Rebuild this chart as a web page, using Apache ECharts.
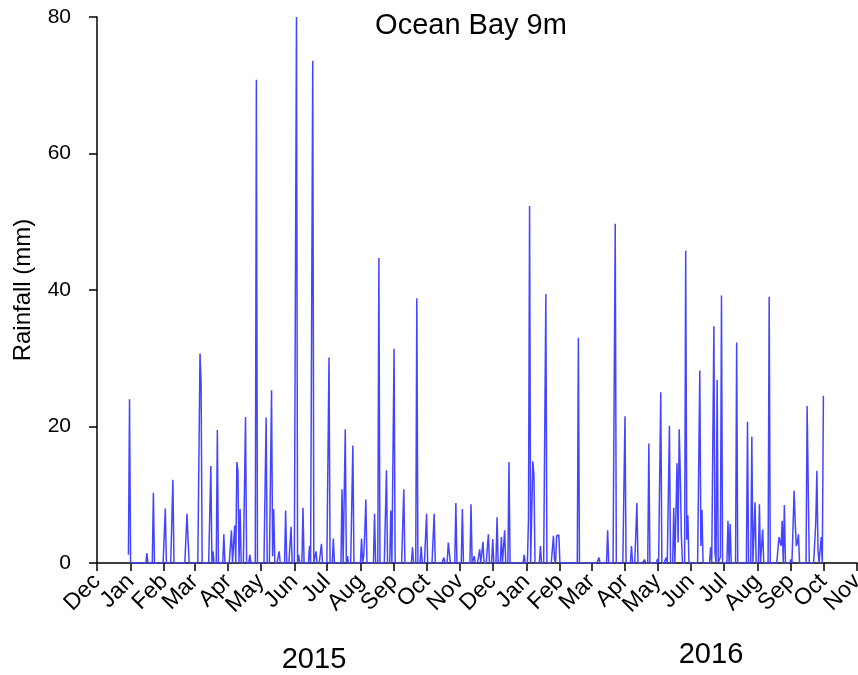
<!DOCTYPE html>
<html lang="en">
<head>
  <meta charset="UTF-8">
  <title>Ocean Bay 9m rainfall</title>
  <script src="https://cdn.jsdelivr.net/npm/echarts@6.0.0/dist/echarts.min.js"></script>
  <style>
    html, body { margin: 0; padding: 0; background: #fff; }
    #chart { width: 858px; height: 675px; }
  </style>
</head>
<body>
  <div id="chart"></div>

  <script>
    // axis span (daily categories) and record span
    const axisStart = '2014-12-01';
    const axisEnd = '2016-11-01';
    const recordStart = '2014-12-30';
    const recordEnd = '2016-10-01';

    const monthNames = ['Jan', 'Feb', 'Mar', 'Apr', 'May', 'Jun', 'Jul', 'Aug', 'Sep', 'Oct', 'Nov', 'Dec'];

    // days with rain (all other days in the record are 0 mm)
    const rainDates = [
      '2014-12-30', '2014-12-31', '2015-01-16', '2015-01-22', '2015-02-02', '2015-02-09', '2015-02-22', '2015-02-23',
      '2015-03-06', '2015-03-07', '2015-03-16', '2015-03-18', '2015-03-22', '2015-03-28', '2015-04-04', '2015-04-07',
      '2015-04-09', '2015-04-10', '2015-04-12', '2015-04-17', '2015-04-21', '2015-04-27', '2015-05-06', '2015-05-11',
      '2015-05-12', '2015-05-13', '2015-05-18', '2015-05-24', '2015-05-29', '2015-06-03', '2015-06-05', '2015-06-09',
      '2015-06-15', '2015-06-18', '2015-06-21', '2015-06-26', '2015-07-03', '2015-07-07', '2015-07-15', '2015-07-18',
      '2015-07-20', '2015-07-25', '2015-08-02', '2015-08-04', '2015-08-05', '2015-08-06', '2015-08-14', '2015-08-18',
      '2015-08-25', '2015-08-29', '2015-09-01', '2015-09-10', '2015-09-18', '2015-09-22', '2015-09-26', '2015-10-01',
      '2015-10-08', '2015-10-17', '2015-10-21', '2015-10-22', '2015-10-28', '2015-11-03', '2015-11-11', '2015-11-14',
      '2015-11-19', '2015-11-22', '2015-11-27', '2015-12-01', '2015-12-05', '2015-12-09', '2015-12-12', '2015-12-16',
      '2015-12-30', '2016-01-03', '2016-01-04', '2016-01-07', '2016-01-08', '2016-01-14', '2016-01-19', '2016-01-26',
      '2016-01-27', '2016-01-29', '2016-01-30', '2016-01-31', '2016-02-18', '2016-03-08', '2016-03-16', '2016-03-23',
      '2016-04-01', '2016-04-07', '2016-04-12', '2016-04-19', '2016-04-23', '2016-05-01', '2016-05-04', '2016-05-09',
      '2016-05-12', '2016-05-16', '2016-05-19', '2016-05-20', '2016-05-21', '2016-05-22', '2016-05-23', '2016-05-27',
      '2016-05-28', '2016-05-29', '2016-06-09', '2016-06-10', '2016-06-11', '2016-06-19', '2016-06-22', '2016-06-23',
      '2016-06-25', '2016-06-28', '2016-06-29', '2016-07-05', '2016-07-07', '2016-07-13', '2016-07-23', '2016-07-27',
      '2016-07-30', '2016-08-03', '2016-08-06', '2016-08-12', '2016-08-21', '2016-08-22', '2016-08-23', '2016-08-24',
      '2016-08-26', '2016-09-01', '2016-09-04', '2016-09-05', '2016-09-06', '2016-09-07', '2016-09-08', '2016-09-16',
      '2016-09-17', '2016-09-24', '2016-09-25', '2016-09-26', '2016-09-29', '2016-10-01'
    ];
    const rainMm = [
      1.2, 24.0, 1.4, 10.3, 8.0, 12.2, 7.2, 3.5,
      30.7, 26.5, 14.2, 1.7, 19.5, 4.2, 4.8, 5.5,
      14.8, 13.5, 7.9, 21.4, 1.2, 70.8, 21.3, 25.3,
      1.0, 7.9, 1.7, 7.7, 5.3, 80.0, 1.2, 8.1,
      2.5, 73.6, 1.7, 2.8, 30.1, 3.6, 10.8, 19.6,
      1.0, 17.2, 3.6, 1.0, 4.5, 9.3, 7.2, 44.7,
      13.6, 7.7, 31.4, 10.8, 2.3, 38.8, 2.4, 7.2,
      7.2, 0.8, 3.0, 2.9, 8.8, 7.9, 8.6, 1.0,
      2.0, 3.1, 4.2, 3.5, 6.7, 3.8, 4.8, 14.8,
      1.2, 6.6, 52.3, 14.9, 12.9, 2.5, 39.4, 4.0,
      0.5, 4.0, 4.1, 4.1, 33.0, 0.8, 4.8, 49.7,
      21.5, 2.5, 8.8, 0.5, 17.5, 0.6, 25.0, 0.8,
      20.1, 8.1, 14.6, 3.0, 19.6, 13.0, 4.0, 45.8,
      3.4, 7.0, 28.2, 2.5, 7.8, 2.3, 34.7, 1.5,
      26.8, 0.9, 39.2, 6.2, 5.7, 32.3, 20.7, 18.5,
      8.9, 8.6, 4.9, 39.0, 3.8, 4.0, 2.5, 6.2,
      8.5, 0.5, 10.6, 6.0, 2.5, 3.0, 4.2, 23.0,
      23.0, 6.0, 13.5, 2.0, 3.8, 24.5
    ];

    const yTicks = [0, 20, 40, 60, 80];
    const yearLabels = ['2015', '2016'];

    // build the daily category list for the axis
    function dayList(from, to) {
      const out = [];
      const d = new Date(from + 'T00:00:00Z');
      const end = new Date(to + 'T00:00:00Z');
      while (d <= end) {
        out.push(d.toISOString().slice(0, 10));
        d.setUTCDate(d.getUTCDate() + 1);
      }
      return out;
    }

    const days = dayList(axisStart, axisEnd);
    const rainByDate = {};
    rainDates.forEach((d, i) => { rainByDate[d] = rainMm[i]; });

    const series = days.map(d => {
      if (d < recordStart || d > recordEnd) return null;
      return rainByDate[d] !== undefined ? rainByDate[d] : 0;
    });

    const isMonthStart = (idx, val) => val.slice(8) === '01';
    const font = "'Liberation Sans', Arial, sans-serif";

    const chart = echarts.init(document.getElementById('chart'));

    chart.setOption({
      animation: false,
      backgroundColor: '#ffffff',
      grid: {
        left: 97,
        right: 1,
        top: 17,
        bottom: 112,
        containLabel: false,
        outerBoundsMode: 'none'
      },
      xAxis: {
        type: 'category',
        data: days,
        boundaryGap: false,
        axisLine: { lineStyle: { color: '#000', width: 1.5 } },
        axisTick: { interval: isMonthStart, length: 8, lineStyle: { color: '#000', width: 1.5 } },
        axisLabel: {
          interval: isMonthStart,
          rotate: 45,
          margin: 15,
          color: '#000',
          fontSize: 23,
          fontFamily: font,
          formatter: v => monthNames[parseInt(v.slice(5, 7), 10) - 1]
        },
        splitLine: { show: false }
      },
      yAxis: {
        type: 'value',
        min: yTicks[0],
        max: yTicks[yTicks.length - 1],
        interval: 20,
        name: 'Rainfall (mm)',
        nameLocation: 'middle',
        nameGap: 62,
        nameTextStyle: { color: '#000', fontSize: 24, fontFamily: font },
        axisLine: { show: true, lineStyle: { color: '#000', width: 1.5 } },
        axisTick: { show: true, length: 8, lineStyle: { color: '#000', width: 1.5 } },
        axisLabel: { color: '#000', fontSize: 21, fontFamily: font, margin: 26 },
        splitLine: { show: false }
      },
      graphic: [
        {
          type: 'text', x: 471, y: 26,
          style: { text: 'Ocean Bay 9m', fill: '#000', fontSize: 29, fontFamily: font, align: 'center', verticalAlign: 'middle' }
        },
        {
          type: 'text', x: 314, y: 660,
          style: { text: yearLabels[0], fill: '#000', fontSize: 29, fontFamily: font, align: 'center', verticalAlign: 'middle' }
        },
        {
          type: 'text', x: 711, y: 655,
          style: { text: yearLabels[1], fill: '#000', fontSize: 29, fontFamily: font, align: 'center', verticalAlign: 'middle' }
        }
      ],
      series: [
        {
          name: 'Rainfall',
          type: 'line',
          data: series,
          showSymbol: false,
          connectNulls: false,
          lineStyle: { color: '#4545ff', width: 1.5 },
          itemStyle: { color: '#4545ff' }
        }
      ]
    });
  </script>
</body>
</html>
